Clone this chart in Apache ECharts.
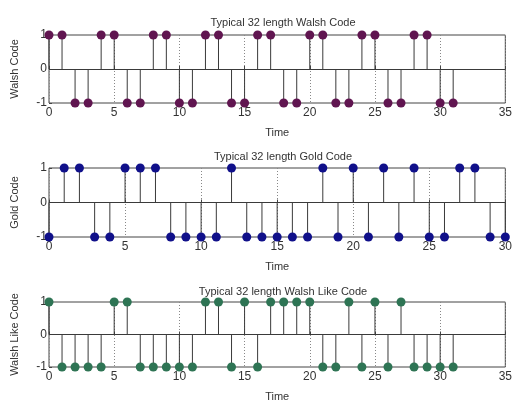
<!DOCTYPE html>
<html>
<head>
<meta charset="utf-8">
<script src="https://cdn.jsdelivr.net/npm/echarts@6/dist/echarts.min.js"></script>
<style>html,body{margin:0;padding:0;background:#fff;}#c{width:515px;height:403px;}</style>
</head>
<body>
<div id="c"></div>
<script>
var walshX = [0,1,2,3,4,5,6,7,8,9,10,11,12,13,14,15,16,17,18,19,20,21,22,23,24,25,26,27,28,29,30,31];
var walshY = [1,1,-1,-1,1,1,-1,-1,1,1,-1,-1,1,1,-1,-1,1,1,-1,-1,1,1,-1,-1,1,1,-1,-1,1,1,-1,-1];
var goldX = [0,1,2,3,4,5,6,7,8,9,10,11,12,13,14,15,16,17,18,19,20,21,22,23,24,25,26,27,28,29,30];
var goldY = [-1,1,1,-1,-1,1,1,1,-1,-1,-1,-1,1,-1,-1,-1,-1,-1,1,-1,1,-1,1,-1,1,-1,-1,1,1,-1,-1];
var likeX = [0,1,2,3,4,5,6,7,8,9,10,11,12,13,14,15,16,17,18,19,20,21,22,23,24,25,26,27,28,29,30,31];
var likeY = [1,-1,-1,-1,-1,1,1,-1,-1,-1,-1,-1,1,1,-1,1,-1,1,1,1,1,-1,-1,1,-1,1,-1,1,-1,-1,-1,-1];
var xMax = [35, 30, 35];
var titles = ['Typical 32 length Walsh Code', 'Typical 32 length Gold Code', 'Typical 32 length Walsh Like Code'];
var yNames = ['Walsh Code', 'Gold Code', 'Walsh Like Code'];
var xName = 'Time';
var colors = ['#601550', '#10108a', '#2e7454'];

var FONT = 'Liberation Sans, Arial, sans-serif';
var grids = [
  {left: 49, right: 8, top: 35, height: 68},
  {left: 49, right: 8, top: 168, height: 69},
  {left: 49, right: 8, top: 302, height: 67}
];
var titleTops = [12, 146, 281];
var xs = [walshX, goldX, likeX];
var ys = [walshY, goldY, likeY];

var option = {
  animation: false,
  backgroundColor: '#fff',
  title: [], grid: [], xAxis: [], yAxis: [], series: []
};
for (var i = 0; i < 3; i++) {
  option.title.push({text: titles[i], left: 278, top: titleTops[i], textAlign: 'center',
    textStyle: {fontFamily: FONT, fontSize: 11, fontWeight: 'normal', color: '#333'}});
  var g = grids[i];
  option.grid.push({left: g.left, right: g.right, top: g.top, height: g.height, show: true,
    borderColor: '#444', borderWidth: 1, backgroundColor: 'transparent'});
  option.xAxis.push({type: 'value', gridIndex: i, min: 0, max: xMax[i], interval: 5,
    name: xName, nameLocation: 'middle', nameGap: 24,
    nameTextStyle: {fontFamily: FONT, fontSize: 11, color: '#333'},
    axisLine: {show: false}, axisTick: {show: true, inside: true, length: 3, lineStyle: {color: '#444'}},
    axisLabel: {fontFamily: FONT, fontSize: 12, color: '#333', margin: 4},
    splitLine: {show: true, lineStyle: {type: [1, 2], color: '#888', width: 1}}});
  option.yAxis.push({type: 'value', gridIndex: i, min: -1, max: 1, interval: 1,
    name: yNames[i], nameLocation: 'middle', nameGap: 29,
    nameTextStyle: {fontFamily: FONT, fontSize: 11, color: '#333'},
    axisLine: {show: false}, axisTick: {show: true, inside: true, length: 3, lineStyle: {color: '#444'}},
    axisLabel: {fontFamily: FONT, fontSize: 12, color: '#333', margin: 2},
    splitLine: {show: false}});
  var pts = xs[i].map(function (x, k) { return [x, ys[i][k]]; });
  option.series.push({type: 'bar', xAxisIndex: i, yAxisIndex: i, data: pts, barWidth: 1,
    itemStyle: {color: '#3a3a3a'}, silent: true,
    markLine: {silent: true, symbol: 'none', label: {show: false},
      lineStyle: {color: '#3a3a3a', type: 'solid', width: 1}, data: [{yAxis: 0}]}});
  option.series.push({type: 'scatter', xAxisIndex: i, yAxisIndex: i, data: pts, symbolSize: 9,
    itemStyle: {color: colors[i], opacity: 1}, z: 5});
}
var chart = echarts.init(document.getElementById('c'), null, {renderer: 'canvas'});
chart.setOption(option);
</script>
</body>
</html>
